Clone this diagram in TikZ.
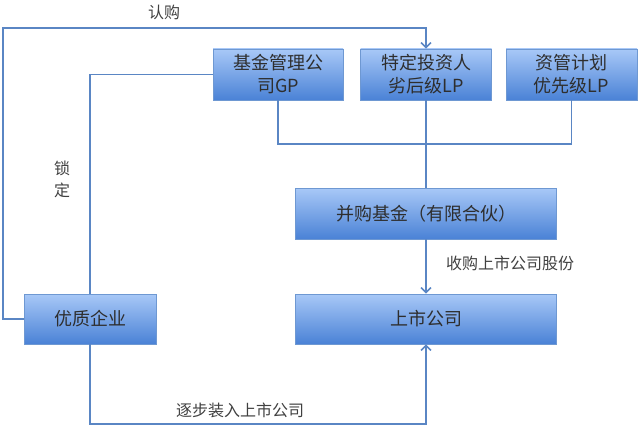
\documentclass[tikz,border=0pt]{standalone}
\usepackage{fontspec}
\setmainfont{Noto Sans CJK SC}
\usetikzlibrary{arrows.meta}
\definecolor{ln}{HTML}{5A86C4}
\definecolor{boxtop}{HTML}{A8C8F7}
\definecolor{boxbot}{HTML}{4A82D6}
\definecolor{bd}{HTML}{6E98D2}
\definecolor{tx}{HTML}{2E2E2E}
\definecolor{lb}{HTML}{404040}
\begin{document}
\begin{tikzpicture}[x=1pt,y=-1pt,
  box/.style={draw=bd,line width=0.8pt,top color=boxtop,bottom color=boxbot,
    minimum height=51pt,inner sep=0pt,align=center,text=tx,
    font=\fontsize{18}{23}\selectfont},
  conn/.style={draw=ln,line width=1.5pt},
  arr/.style={conn,-{Straight Barb[length=5pt,width=10pt,line width=1.5pt]}},
  lab/.style={text=lb,font=\fontsize{16}{22}\selectfont,inner sep=0pt,align=center}]
\useasboundingbox (0,0) rectangle (640,428);
\node[box,minimum width=130pt] (gp) at (278,74.5) {基金管理公\\司GP};
\node[box,minimum width=131pt] (td) at (426,74.5) {特定投资人\\劣后级LP};
\node[box,minimum width=131pt] (zg) at (571.5,74.5) {资管计划\\优先级LP};
\node[box,minimum width=261pt] (bg) at (426,213.5) {并购基金（有限合伙）};
\node[box,minimum width=261pt,minimum height=50pt] (ss) at (426,319) {上市公司};
\node[box,minimum width=132pt,minimum height=50pt] (yz) at (90,319) {优质企业};
\coordinate (c1) at (3,28);
\coordinate (j) at (426,144);
\coordinate (c3) at (426,424);
\draw[arr] (yz.west) -| (c1) -| (td.north);
\draw[conn] (yz.north) |- (gp.west);
\draw[conn] (gp.south) |- (j) -| (zg.south);
\draw[conn] (td.south) -- (bg.north);
\draw[arr] (bg.south) -- (ss.north);
\draw[arr] (yz.south) |- (c3) -- (ss.south);
\node[lab] (l1) at (164,12) {认购};
\node[lab] (l2) at (62,179) {锁\\定};
\node[lab] (l3) at (510,263) {收购上市公司股份};
\node[lab] (l4) at (240,410) {逐步装入上市公司};
\end{tikzpicture}
\end{document}
